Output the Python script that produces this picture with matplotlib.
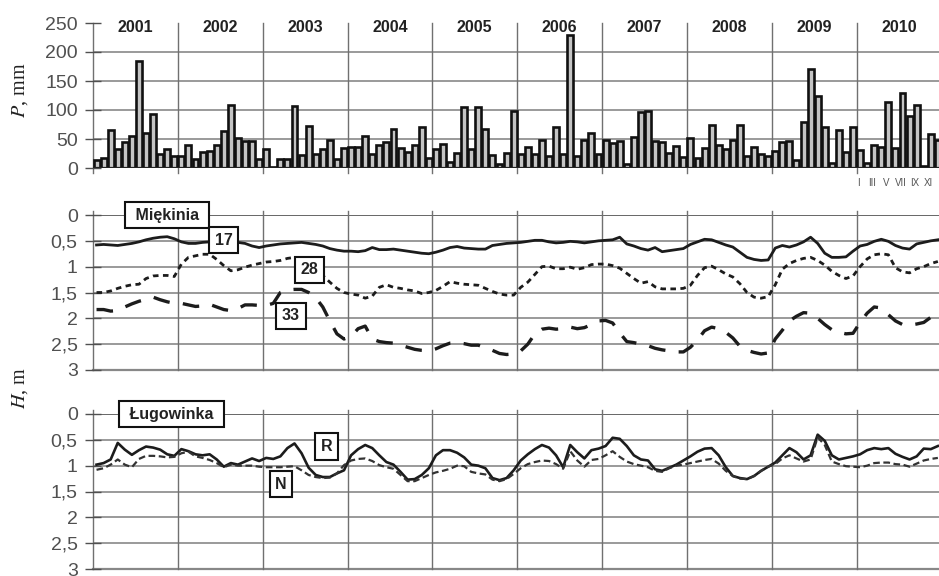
import matplotlib
matplotlib.use("Agg")
import matplotlib.pyplot as plt
import numpy as np

plt.rcParams['font.family'] = ['Liberation Sans', 'DejaVu Sans']
plt.rcParams['mathtext.fontset'] = 'stix'

# Dane: miesięczne sumy opadów 2001-2010 (mm)
years = ['2001', '2002', '2003', '2004', '2005', '2006', '2007', '2008', '2009', '2010']
opad = [
    14, 18, 65, 33, 45, 56, 184, 60, 93, 25, 33, 21,
    21, 40, 16, 28, 29, 40, 64, 109, 51, 47, 47, 16,
    32, 2, 16, 16, 107, 22, 73, 25, 32, 48, 16, 34,
    36, 36, 56, 24, 40, 44, 67, 34, 27, 39, 70, 17,
    32, 41, 10, 26, 106, 33, 106, 67, 22, 7, 26, 98,
    24, 37, 25, 48, 21, 70, 24, 230, 21, 49, 61, 24,
    48, 43, 47, 7, 54, 96, 98, 47, 44, 26, 38, 19,
    51, 18, 34, 75, 39, 32, 49, 75, 21, 37, 25, 21,
    30, 45, 47, 14, 79, 171, 124, 70, 9, 65, 28, 71,
    31, 8, 40, 37, 113, 34, 130, 90, 109, 4, 58, 48,
]
month_labels = ['I', 'III', 'V', 'VII', 'IX', 'XI']

# Miękinia - głębokość zwierciadła (m)
h17 = [
    0.58, 0.57, 0.58, 0.59, 0.57, 0.55, 0.52, 0.48, 0.45, 0.43, 0.42, 0.46,
    0.52, 0.55, 0.55, 0.53, 0.52, 0.51, 0.51, 0.52, 0.53, 0.55, 0.60, 0.63,
    0.60, 0.58, 0.56, 0.55, 0.54, 0.53, 0.55, 0.57, 0.60, 0.65, 0.68, 0.70,
    0.70, 0.71, 0.69, 0.63, 0.67, 0.67, 0.66, 0.68, 0.70, 0.72, 0.74, 0.75,
    0.72, 0.68, 0.63, 0.61, 0.64, 0.65, 0.66, 0.66, 0.59, 0.57, 0.55, 0.54,
    0.53, 0.51, 0.49, 0.49, 0.52, 0.54, 0.53, 0.51, 0.52, 0.54, 0.52, 0.50,
    0.49, 0.48, 0.43, 0.56, 0.60, 0.65, 0.68, 0.63, 0.71, 0.69, 0.67, 0.65,
    0.57, 0.52, 0.47, 0.48, 0.53, 0.58, 0.62, 0.72, 0.82, 0.86, 0.88, 0.87,
    0.64, 0.59, 0.62, 0.58, 0.52, 0.43, 0.55, 0.74, 0.82, 0.82, 0.81, 0.70,
    0.60, 0.57, 0.51, 0.47, 0.51, 0.59, 0.64, 0.66, 0.56, 0.53, 0.50, 0.48,
]
h28 = [
    1.50, 1.50, 1.47, 1.42, 1.38, 1.35, 1.34, 1.23, 1.18, 1.17, 1.17, 1.19,
    0.95, 0.82, 0.79, 0.76, 0.76, 0.86, 0.98, 1.08, 1.06, 1.01, 0.97, 0.94,
    0.91, 0.90, 0.88, 0.84, 0.82, 0.88, 0.97, 1.08, 1.17, 1.30, 1.42, 1.50,
    1.53, 1.55, 1.61, 1.57, 1.40, 1.35, 1.40, 1.42, 1.45, 1.47, 1.52, 1.50,
    1.46, 1.38, 1.29, 1.32, 1.34, 1.35, 1.36, 1.42, 1.48, 1.53, 1.55, 1.55,
    1.40, 1.30, 1.15, 1.00, 0.99, 1.04, 1.04, 1.01, 1.05, 1.02, 0.96, 0.95,
    0.95, 0.98, 1.03, 1.13, 1.23, 1.32, 1.29, 1.39, 1.43, 1.43, 1.43, 1.42,
    1.36, 1.17, 1.02, 0.99, 1.06, 1.14, 1.20, 1.33, 1.50, 1.59, 1.61, 1.58,
    1.35, 1.05, 0.94, 0.88, 0.84, 0.82, 0.88, 0.97, 1.09, 1.17, 1.23, 1.18,
    1.00, 0.85, 0.77, 0.75, 0.77, 1.02, 1.10, 1.12, 1.04, 1.00, 0.94, 0.90,
]
h33 = [
    1.83, 1.83, 1.86, 1.85, 1.78, 1.72, 1.67, 1.63, 1.59, 1.64, 1.68, 1.71,
    1.71, 1.74, 1.77, 1.76, 1.73, 1.78, 1.83, 1.85, 1.81, 1.74, 1.74, 1.75,
    1.75, 1.71, 1.50, 1.45, 1.44, 1.44, 1.50, 1.60, 1.78, 2.05, 2.30, 2.40,
    2.35, 2.20, 2.15, 2.40, 2.45, 2.47, 2.48, 2.52, 2.56, 2.60, 2.62, 2.63,
    2.59, 2.53, 2.48, 2.47, 2.49, 2.52, 2.52, 2.57, 2.62, 2.68, 2.70, 2.69,
    2.63, 2.50, 2.30, 2.21, 2.19, 2.21, 2.20, 2.17, 2.20, 2.18, 2.12, 2.05,
    2.04, 2.09, 2.28, 2.45, 2.47, 2.50, 2.53, 2.58, 2.61, 2.63, 2.65, 2.65,
    2.56, 2.42, 2.24, 2.17, 2.20, 2.27, 2.38, 2.54, 2.62, 2.66, 2.69, 2.67,
    2.40, 2.23, 2.05, 1.96, 1.89, 1.90, 2.00, 2.12, 2.22, 2.27, 2.30, 2.29,
    2.08, 1.90, 1.78, 1.80, 1.93, 2.05, 2.12, 2.13, 2.11, 2.08, 1.98, 1.94,
]

# Ługowinka
hR = [
    0.98, 0.95, 0.88, 0.56, 0.69, 0.79, 0.70, 0.63, 0.65, 0.69, 0.78, 0.81,
    0.68, 0.72, 0.78, 0.80, 0.78, 0.88, 1.02, 0.95, 0.98, 0.92, 0.86, 0.91,
    0.85, 0.87, 0.82, 0.66, 0.57, 0.76, 1.04, 1.18, 1.22, 1.22, 1.15, 1.09,
    0.80, 0.68, 0.60, 0.66, 0.80, 0.93, 0.98, 1.12, 1.27, 1.26, 1.18, 1.05,
    0.80, 0.70, 0.70, 0.75, 0.84, 0.98, 1.00, 1.05, 1.24, 1.28, 1.24, 1.09,
    0.90, 0.78, 0.68, 0.60, 0.65, 0.80, 1.03, 0.60, 0.74, 0.86, 0.70, 0.67,
    0.62, 0.46, 0.48, 0.62, 0.80, 0.88, 0.90, 1.07, 1.10, 1.04, 0.98, 0.90,
    0.82, 0.73, 0.67, 0.66, 0.80, 1.03, 1.20, 1.24, 1.26, 1.20, 1.10, 1.02,
    0.94, 0.80, 0.66, 0.74, 0.88, 0.80, 0.40, 0.52, 0.80, 0.88, 0.85, 0.82,
    0.78, 0.70, 0.66, 0.68, 0.66, 0.77, 0.83, 0.88, 0.82, 0.67, 0.68, 0.62,
]
hN = [
    1.08, 1.05, 0.98, 0.88, 0.98, 1.03, 0.87, 0.81, 0.81, 0.82, 0.84, 0.83,
    0.76, 0.73, 0.82, 0.85, 0.89, 0.95, 1.03, 0.98, 1.00, 1.00, 1.00, 1.02,
    1.03, 1.03, 1.03, 1.02, 1.01, 1.09, 1.18, 1.22, 1.24, 1.23, 1.15, 0.99,
    0.90, 0.87, 0.86, 0.91, 0.99, 1.03, 1.06, 1.18, 1.30, 1.30, 1.24, 1.18,
    1.13, 1.10, 1.06, 1.00, 1.01, 1.12, 1.15, 1.17, 1.27, 1.30, 1.26, 1.16,
    1.05, 0.97, 0.93, 0.90, 0.91, 0.97, 1.06, 0.72, 0.90, 1.02, 0.89, 0.87,
    0.80, 0.72, 0.83, 0.92, 0.97, 1.00, 1.03, 1.10, 1.12, 1.05, 1.00, 0.98,
    0.95, 0.92, 0.89, 0.87, 0.96, 1.10, 1.20, 1.25, 1.26, 1.20, 1.10, 1.02,
    0.97, 0.86, 0.80, 0.86, 0.92, 0.88, 0.45, 0.60, 0.92, 0.97, 1.01, 1.02,
    1.03, 1.00, 0.95, 0.94, 0.94, 0.97, 0.98, 1.02, 0.96, 0.90, 0.87, 0.85,
]

W, HH = 939, 576
def rect(l, t, w, h):
    return [l / W, 1 - (t + h) / HH, w / W, h / HH]

n = len(opad)
mies = np.arange(n)
plot_w = n * 7.07
grid_c = '#9a9a9a'
vline_c = '#707070'
tick_c = '#505050'

fig = plt.figure(figsize=(9.39, 5.76), dpi=100)

ax1 = fig.add_axes(rect(93, 23, plot_w, 145))
ax2 = fig.add_axes(rect(93, 215, plot_w, 155))
ax3 = fig.add_axes(rect(93, 414, plot_w, 155))

for ax in (ax1, ax2, ax3):
    ax.set_xlim(-0.5, n - 0.5)
    for s in ax.spines.values():
        s.set_visible(False)
    ax.set_xticks([])
    ax.tick_params(axis='y', direction='inout', length=12, width=1,
                   color=tick_c, labelcolor='#505050', labelsize=14, pad=5)

# --- opady ---
ax1.set_ylim(0, 250)
ax1.set_yticks([0, 50, 100, 150, 200, 250])
for v in [50, 100, 150, 200]:
    ax1.axhline(v, color=grid_c, lw=1.4, zorder=0)
for k in range(len(years) + 1):
    ax1.axvline(12 * k - 0.5, ymin=-0.035, ymax=1, color=vline_c, lw=1,
                zorder=0, clip_on=False)
ax1.bar(mies, opad, width=0.84, color='#c4c4c4', edgecolor='#111111',
        linewidth=1.9, zorder=2)
ax1.axhline(0, color='#222', lw=1.6, zorder=3)
for k, y in enumerate(years):
    ax1.text(12 * k + 5.5, 242, y, ha='center', va='center',
             fontsize=11.5, fontweight='bold', color='#222')
for j, lab in enumerate(month_labels):
    ax1.text(108 + 2 * j - 0.3, -26, lab, ha='center', va='center',
             fontsize=7, color='#555', clip_on=False)

# --- stany wód ---
ticks_h = [0, 0.5, 1, 1.5, 2, 2.5, 3]
tick_lab = ['0', '0,5', '1', '1,5', '2', '2,5', '3']
for ax in (ax2, ax3):
    ax.set_ylim(3, 0)
    ax.set_yticks(ticks_h)
    ax.set_yticklabels(tick_lab)
    for v in ticks_h[1:-1]:
        ax.axhline(v, color=grid_c, lw=1.4, zorder=0)
    ax.axhline(0, color='#666', lw=1.4, zorder=0)
    ax.axhline(3, color='#888', lw=1.6, zorder=0, clip_on=False)
    for k in range(len(years) + 1):
        ax.axvline(12 * k - 0.5, ymin=0, ymax=1.025, color=vline_c, lw=1,
                   zorder=0, clip_on=False)

line_c = '#1c1c1c'
ax2.plot(mies, h17, color=line_c, lw=2.0, zorder=3)
ax2.plot(mies, h28, color=line_c, lw=2.0, dashes=(2.0, 1.6), zorder=3)
ax2.plot(mies, h33, color=line_c, lw=2.4, dashes=(5, 4), zorder=3)

ax3.plot(mies, hR, color=line_c, lw=1.9, zorder=3)
ax3.plot(mies, hN, color='#333', lw=1.6, dashes=(3, 1.6), zorder=3)

box_kw = dict(boxstyle='square,pad=0.35', fc='white', ec='#111', lw=1.5)
lab_kw = dict(ha='center', va='center', fontsize=11.5, fontweight='bold',
              color='#222', bbox=box_kw, zorder=5)
ax2.text(10.0, 0.0, ' Miękinia ', **lab_kw)
ax2.text(18.0, 0.49, '17', **lab_kw)
ax2.text(30.1, 1.06, '28', **lab_kw)
ax2.text(27.5, 1.95, '33', **lab_kw)

ax3.text(10.6, 0.0, ' Ługowinka ', **lab_kw)
ax3.text(32.5, 0.63, 'R', **lab_kw)
ax3.text(26.1, 1.36, 'N', **lab_kw)

fig.text(20 / W, 1 - 90 / HH, '$P$, mm', rotation=90, ha='center', va='center',
         fontsize=14.5, family='Liberation Serif', color='#222')
fig.text(20 / W, 1 - 388 / HH, '$H$, m', rotation=90, ha='center', va='center',
         fontsize=14.5, family='Liberation Serif', color='#222')

fig.savefig('out.png', dpi=100)
